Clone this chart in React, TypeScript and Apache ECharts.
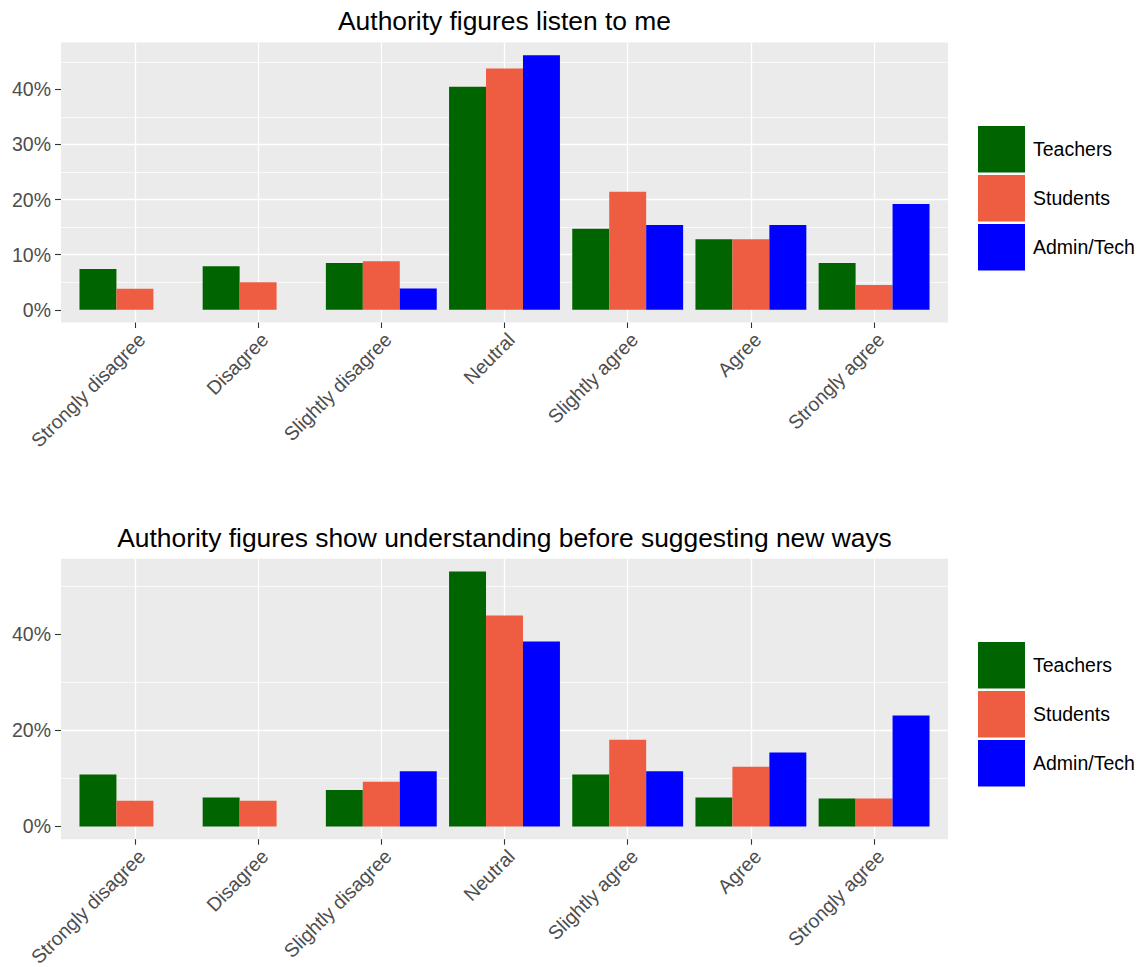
import React, { useEffect, useRef } from "react";
import * as echarts from "echarts";

// ---------- data ----------
const categories = [
  "Strongly disagree",
  "Disagree",
  "Slightly disagree",
  "Neutral",
  "Slightly agree",
  "Agree",
  "Strongly agree",
];
const groups = ["Teachers", "Students", "Admin/Tech"];
const groupColors = ["#006400", "#EE5C42", "#0000FF"];

const titles = [
  "Authority figures listen to me",
  "Authority figures show understanding before suggesting new ways",
];

// Panel 1: Authority figures listen to me (percent)
const listenTeachers = [7.4, 7.9, 8.5, 40.5, 14.7, 12.8, 8.5];
const listenStudents = [3.8, 5.0, 8.8, 43.8, 21.4, 12.8, 4.5];
const listenAdmin = [0, 0, 3.85, 46.2, 15.4, 15.4, 19.2];

// Panel 2: Authority figures show understanding before suggesting new ways (percent)
const understandTeachers = [10.8, 6.0, 7.6, 53.05, 10.8, 6.0, 5.8];
const understandStudents = [5.35, 5.35, 9.3, 43.9, 18.05, 12.4, 5.8];
const understandAdmin = [0, 0, 11.5, 38.5, 11.5, 15.4, 23.1];

const panelSeries = [
  [listenTeachers, listenStudents, listenAdmin],
  [understandTeachers, understandStudents, understandAdmin],
];
const majorSteps = [10, 20];

// ---------- layout / style ----------
const FONT = "'Liberation Sans', Arial, Helvetica, sans-serif";
const PANEL_LEFT = 61;
const PANEL_WIDTH = 887;
const PANEL_TOPS = [42.5, 558.7];
const PANEL_HEIGHTS = [280, 280.5];
const TITLE_TOPS = [8, 525];
const LEGEND_TOPS = [126, 642];
const LEGEND_LEFT = 978;
const EXPAND = 0.6; // ggplot discrete expansion

function buildOption() {
  const n = categories.length;
  const span = n - 1 + 2 * EXPAND;
  const unit = PANEL_WIDTH / span;
  const narrowLeft = PANEL_LEFT + (EXPAND - 0.5) * unit;
  const narrowWidth = n * unit;

  const grid: any[] = [];
  const xAxis: any[] = [];
  const yAxis: any[] = [];
  const series: any[] = [];
  const title: any[] = [];
  const legend: any[] = [];

  panelSeries.forEach((sets, p) => {
    const step = majorSteps[p];
    const maxV = Math.max(...sets.flat());
    const lo = -0.05 * maxV;
    const hi = 1.05 * maxV;
    const ticks: number[] = [];
    for (let v = 0; v <= hi; v += step) ticks.push(v);

    const gWide = grid.length;
    grid.push({
      left: PANEL_LEFT,
      top: PANEL_TOPS[p],
      width: PANEL_WIDTH,
      height: PANEL_HEIGHTS[p],
      show: true,
      backgroundColor: "#EBEBEB",
      borderWidth: 0,
      containLabel: false,
      outerBoundsMode: "none",
    });
    const gNarrow = grid.length;
    grid.push({
      left: narrowLeft,
      top: PANEL_TOPS[p],
      width: narrowWidth,
      height: PANEL_HEIGHTS[p],
      show: false,
      containLabel: false,
      outerBoundsMode: "none",
    });

    // vertical grid lines (wide grid, value axis)
    xAxis.push({
      type: "value",
      gridIndex: gWide,
      position: "bottom",
      min: -EXPAND,
      max: n - 1 + EXPAND,
      minInterval: 1,
      maxInterval: 1,
      axisLine: { show: false, onZero: false },
      axisTick: { show: false },
      axisLabel: { show: false },
      splitLine: {
        show: true,
        showMinLine: false,
        showMaxLine: false,
        lineStyle: { color: "#FFFFFF", width: 1.3 },
      },
    });
    // category axis (narrow grid)
    const xCat = xAxis.length;
    xAxis.push({
      type: "category",
      gridIndex: gNarrow,
      position: "bottom",
      data: categories,
      axisLine: { show: false, onZero: false },
      axisTick: {
        show: true,
        alignWithLabel: true,
        length: 5.5,
        lineStyle: { color: "#333333", width: 1.1 },
      },
      axisLabel: {
        interval: 0,
        rotate: 45,
        align: "right",
        verticalAlign: "top",
        margin: 7,
        lineHeight: 19,
        fontSize: 19.5,
        color: "#4D4D4D",
        fontFamily: FONT,
      },
      splitLine: { show: false },
    });

    // major y axis with labels (wide grid)
    yAxis.push({
      type: "value",
      gridIndex: gWide,
      position: "left",
      min: lo,
      max: hi,
      minInterval: step,
      maxInterval: step,
      axisLine: { show: false, onZero: false },
      axisTick: {
        show: true,
        length: 6,
        customValues: ticks,
        lineStyle: { color: "#333333", width: 1.1 },
      },
      axisLabel: {
        customValues: ticks,
        margin: 10,
        fontSize: 19.5,
        color: "#4D4D4D",
        fontFamily: FONT,
        formatter: (v: number) =>
          Math.abs(v / step - Math.round(v / step)) < 1e-6 && v >= 0
            ? `${Math.round(v)}%`
            : "",
      },
      splitLine: {
        show: true,
        showMinLine: false,
        showMaxLine: false,
        lineStyle: { color: "#FFFFFF", width: 1.3 },
      },
    });
    // minor grid lines (shifted by half a step)
    yAxis.push({
      type: "value",
      gridIndex: gWide,
      position: "left",
      min: lo + step / 2,
      max: hi + step / 2,
      minInterval: step,
      maxInterval: step,
      axisLine: { show: false, onZero: false },
      axisTick: { show: false },
      axisLabel: { show: false },
      splitLine: {
        show: true,
        showMinLine: false,
        showMaxLine: false,
        lineStyle: { color: "#FFFFFF", width: 0.7 },
      },
    });
    // bars value axis (narrow grid)
    const yBar = yAxis.length;
    yAxis.push({
      type: "value",
      gridIndex: gNarrow,
      min: lo,
      max: hi,
      show: false,
      axisLine: { onZero: false },
      splitLine: { show: false },
    });

    sets.forEach((values, gi) => {
      series.push({
        type: "bar",
        name: groups[gi],
        xAxisIndex: xCat,
        yAxisIndex: yBar,
        data: values,
        barGap: "0%",
        barCategoryGap: "10%",
        itemStyle: { color: groupColors[gi] },
        emphasis: { disabled: true },
      });
    });

    title.push({
      text: titles[p],
      left: PANEL_LEFT + PANEL_WIDTH / 2,
      top: TITLE_TOPS[p],
      textAlign: "center",
      padding: 0,
      textStyle: {
        fontSize: 26.4,
        fontWeight: "normal",
        color: "#000000",
        fontFamily: FONT,
      },
    });

    legend.push({
      data: groups,
      orient: "vertical",
      left: LEGEND_LEFT,
      top: LEGEND_TOPS[p],
      padding: 0,
      itemWidth: 47,
      itemHeight: 46.5,
      itemGap: 2.5,
      icon: "rect",
      selectedMode: false,
      textStyle: {
        fontSize: 19.5,
        color: "#000000",
        fontFamily: FONT,
        padding: [3, 0, 0, 3],
      },
    });
  });

  return {
    animation: false,
    backgroundColor: "#FFFFFF",
    textStyle: { fontFamily: FONT },
    title,
    legend,
    grid,
    xAxis,
    yAxis,
    series,
    tooltip: { show: false },
  };
}

export default function App() {
  const ref = useRef<HTMLDivElement>(null);
  useEffect(() => {
    document.body.style.margin = "0";
    if (!ref.current) return;
    const chart = echarts.init(ref.current, undefined, { renderer: "svg" });
    chart.setOption(buildOption() as any);
    return () => chart.dispose();
  }, []);
  return <div ref={ref} style={{ width: 1145, height: 967 }} />;
}
